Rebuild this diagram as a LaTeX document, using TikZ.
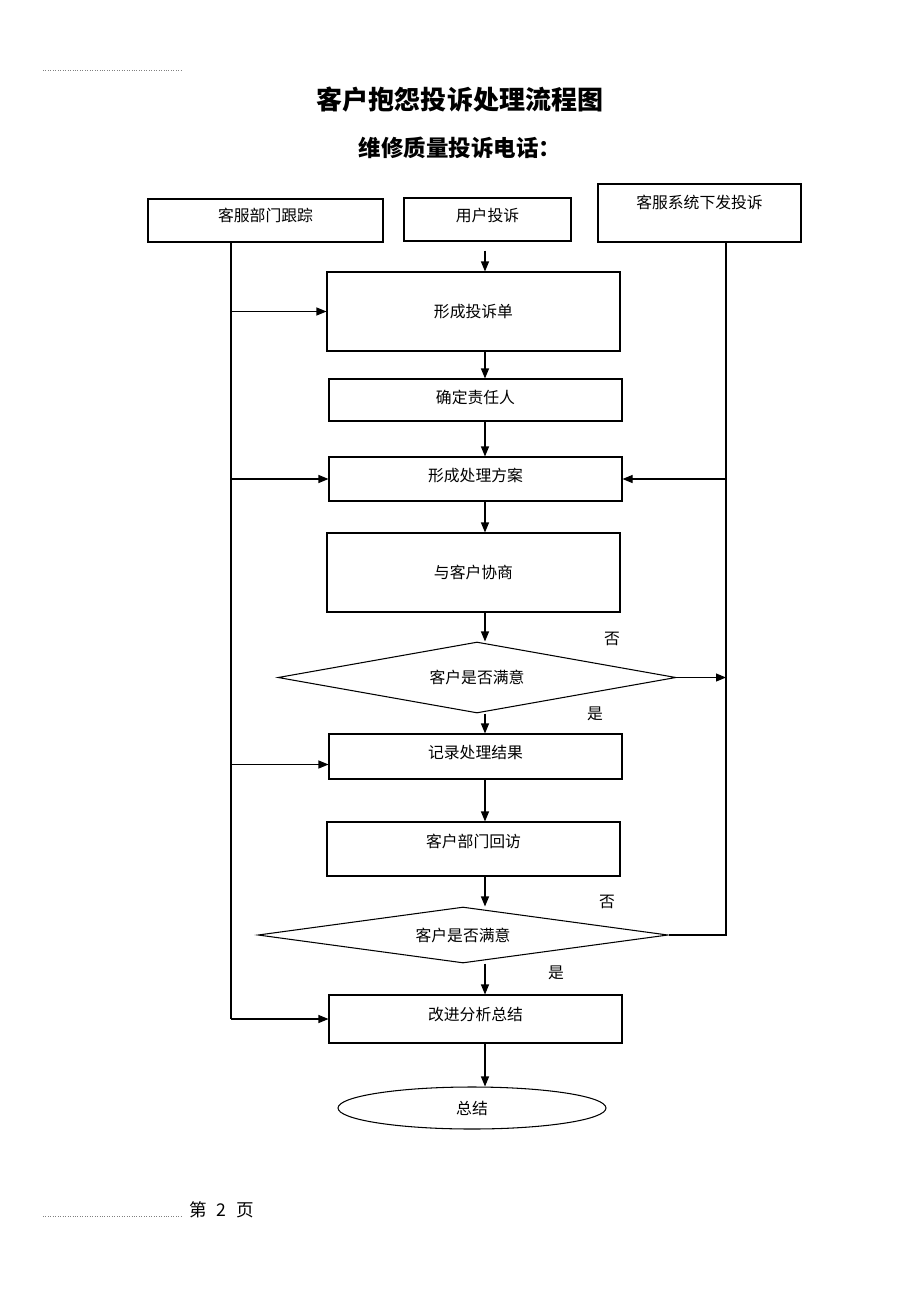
\documentclass[tikz,border=0pt]{standalone}
\usepackage{fontspec}
\newfontfamily\cjk{Noto Sans CJK SC}
\usetikzlibrary{shapes.geometric,arrows.meta}

\begin{document}
\begin{tikzpicture}[x=0.02cm,y=-0.02cm,line width=0.6pt,
    font=\cjk\fontsize{9}{10}\selectfont,
    box/.style 2 args={draw, rectangle, inner sep=0pt,
      minimum width=#1*0.02cm, minimum height=#2*0.02cm},
    check/.style 2 args={draw, diamond, inner sep=0pt, aspect=6,
      minimum width=#1*0.02cm, minimum height=#2*0.02cm},
    liftup/.style={text depth=#1*0.04cm},
    arr/.style={-{Triangle[length=0.2cm,width=0.16cm]}},
    pageline/.style={gray, densely dotted, line width=0.4pt}]

   \useasboundingbox (0,0) rectangle (920,1302);

   \draw[pageline] (43,70) -- (183,70);
   \node[font=\cjk\bfseries\fontsize{14.8}{18}\selectfont] (title) at (460,100) {客户抱怨投诉处理流程图};
   \node[font=\cjk\bfseries\fontsize{12.8}{16}\selectfont] (phone) at (460,148) {维修质量投诉电话：};

   \node[box={235}{43}, liftup=5.5] (track) at (265.5,220.5) {客服部门跟踪};
   \node[box={167}{43}, liftup=4.5] (user) at (487.5,219.5) {用户投诉};
   \node[box={203}{58}, liftup=11] (sys) at (699.5,213) {客服系统下发投诉};
   \node[box={293}{79}] (formd) at (473.5,311.5) {形成投诉单};
   \node[box={293}{42}, liftup=3] (confirm) at (475.5,400) {确定责任人};
   \node[box={293}{44}, liftup=4] (plan) at (475.5,479) {形成处理方案};
   \node[box={293}{79}] (talk) at (473.5,572.5) {与客户协商};
   \node[check={398}{71}] (ok1) at (477,677.5) {客户是否满意};
   \node[box={293}{45}, liftup=4.5] (record) at (475.5,756.5) {记录处理结果};
   \node[box={293}{54}, liftup=8] (visit) at (473.5,849) {客户部门回访};
   \node[check={410}{56}, aspect=7.3] (ok2) at (463,935) {客户是否满意};
   \node[box={293}{48}, liftup=5] (improve) at (475.5,1019) {改进分析总结};
   \node[draw, ellipse, inner sep=0pt, minimum width=268*0.02cm, minimum height=42*0.02cm] (summary) at (472,1108) {总结};

   \node (no1) at (612,639) {否};
   \node (yes1) at (595,714) {是};
   \node (no2) at (607,902) {否};
   \node (yes2) at (556,973) {是};

   \coordinate (ax) at (485,0);
   \coordinate (lx) at (231,0);
   \coordinate (rx) at (726,0);
   \coordinate (ustart) at ([yshift=-0.18cm]user.south);
   \coordinate (recin) at ([yshift=-0.16cm]record.west);

   \draw[arr] (ustart -| ax) -- (formd.north -| ax);
   \draw[arr] (formd.south -| ax) -- (confirm.north -| ax);
   \draw[arr] (confirm.south -| ax) -- (plan.north -| ax);
   \draw[arr] (plan.south -| ax) -- (talk.north -| ax);
   \draw[arr] (talk.south -| ax) -- (ok1.north -| ax);
   \draw[arr] (ok1.south -| ax) -- (record.north -| ax);
   \draw[arr] (record.south -| ax) -- (visit.north -| ax);
   \draw[arr] (visit.south -| ax) -- (ok2.north -| ax);
   \draw[arr] (ok2.south -| ax) -- (improve.north -| ax);
   \draw[arr] (improve.south -| ax) -- (summary.north -| ax);

   \draw (track.south -| lx) -- (lx |- improve.west);
   \draw[arr] (lx |- formd.west) -- (formd.west);
   \draw[arr] (lx |- plan.west) -- (plan.west);
   \draw[arr] (lx |- recin) -- (recin);
   \draw[arr] (lx |- improve.west) -- (improve.west);

   \draw (sys.south -| rx) -- (rx |- ok2.east) -- (ok2.east);
   \draw[arr] (rx |- plan.east) -- (plan.east);
   \draw[arr] (ok1.east) -- (rx |- ok1.east);

   \draw[pageline] (43,1216) -- (183,1216);
   \node[anchor=west, font=\cjk\fontsize{10}{12}\selectfont] (page) at (183,1210) {第\hspace{0.55em}2\hspace{0.55em}页};
 \end{tikzpicture}
\end{document}
